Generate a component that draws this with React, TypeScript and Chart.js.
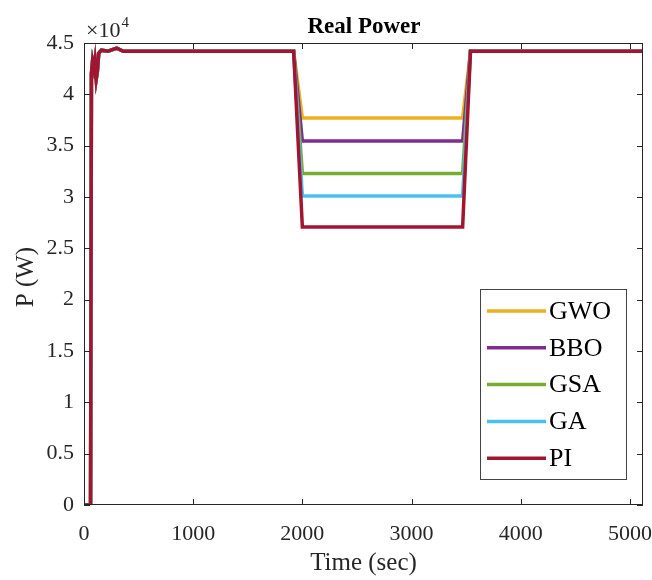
import React, { useEffect, useRef } from "react";
import { Chart, registerables } from "chart.js";

Chart.register(...registerables);

const seriesLabels = ["GWO", "BBO", "GSA", "GA", "PI"];
const seriesColors = ["#EDB120", "#7E2F8E", "#77AC30", "#4DBEEE", "#A2142F"];

const timeSec = [0, 60, 68, 78, 90, 100, 112, 122, 135, 160, 220, 300, 360, 1920, 2000, 3468, 3540, 5120];

const gwoPower = [0, 0, 42000, 43200, 42500, 43300, 41500, 42200, 44000, 44300, 44200, 44500, 44200, 44200, 37700, 37700, 44200, 44200];
const bboPower = [0, 0, 42000, 43200, 42500, 43300, 41500, 42200, 44000, 44300, 44200, 44500, 44200, 44200, 35450, 35450, 44200, 44200];
const gsaPower = [0, 0, 42000, 43200, 42500, 43300, 41500, 42200, 44000, 44300, 44200, 44500, 44200, 44200, 32300, 32300, 44200, 44200];
const gaPower = [0, 0, 42000, 43200, 42500, 43300, 41500, 42200, 44000, 44300, 44200, 44500, 44200, 44200, 30100, 30100, 44200, 44200];
const piPower = [0, 0, 42000, 43200, 42500, 43300, 41500, 42200, 44000, 44300, 44200, 44500, 44200, 44200, 27080, 27080, 44200, 44200];

const seriesValues = [gwoPower, bboPower, gsaPower, gaPower, piPower];

const xTicks = [0, 1000, 2000, 3000, 4000, 5000];
const yTicks = [0, 5000, 10000, 15000, 20000, 25000, 30000, 35000, 40000, 45000];

const SERIF = "'Liberation Serif', 'DejaVu Serif', serif";
const AXIS_COLOR = "#262626";

const decorPlugin = {
  id: "decor",
  afterDatasetsDraw(chart: any) {
    const { ctx, chartArea: a, scales } = chart;
    const xs = scales.x;
    const ys = scales.y;
    ctx.save();
    ctx.strokeStyle = AXIS_COLOR;
    ctx.lineWidth = 1;
    ctx.strokeRect(a.left + 0.5, a.top + 0.5, a.right - a.left - 1, a.bottom - a.top - 1);
    const tl = 6;
    ctx.beginPath();
    xTicks.forEach((v) => {
      const px = Math.round(xs.getPixelForValue(v)) + 0.5;
      ctx.moveTo(px, a.bottom);
      ctx.lineTo(px, a.bottom - tl);
      ctx.moveTo(px, a.top);
      ctx.lineTo(px, a.top + tl);
    });
    yTicks.forEach((v) => {
      const py = Math.round(ys.getPixelForValue(v)) + 0.5;
      ctx.moveTo(a.left, py);
      ctx.lineTo(a.left + tl, py);
      ctx.moveTo(a.right, py);
      ctx.lineTo(a.right - tl, py);
    });
    ctx.stroke();

    // title
    ctx.fillStyle = "#000";
    ctx.textAlign = "center";
    ctx.textBaseline = "alphabetic";
    ctx.font = `bold 23px ${SERIF}`;
    ctx.fillText("Real Power", 364, 33);

    // exponent
    ctx.fillStyle = AXIS_COLOR;
    ctx.textAlign = "left";
    ctx.font = `22px ${SERIF}`;
    ctx.fillText("×10", a.left + 2, 37);
    const w = ctx.measureText("×10").width;
    ctx.font = `15px ${SERIF}`;
    ctx.fillText("4", a.left + 2 + w + 1, 27);

    // axis titles
    ctx.font = `25px ${SERIF}`;
    ctx.textAlign = "center";
    ctx.textBaseline = "middle";
    ctx.fillText("Time (sec)", (a.left + a.right) / 2, 563);
    ctx.save();
    ctx.translate(26, (a.top + a.bottom) / 2 + 3);
    ctx.rotate(-Math.PI / 2);
    ctx.fillText("P (W)", 0, 0);
    ctx.restore();

    // legend
    const lx = 480, ly = 289, lw = 146, lh = 190;
    ctx.fillStyle = "#fff";
    ctx.fillRect(lx, ly, lw, lh);
    ctx.strokeStyle = "#444";
    ctx.lineWidth = 1;
    ctx.strokeRect(lx + 0.5, ly + 0.5, lw, lh);
    ctx.font = `26px ${SERIF}`;
    ctx.textAlign = "left";
    ctx.textBaseline = "middle";
    seriesLabels.forEach((lab, i) => {
      const cy = 311 + i * 36.8;
      ctx.strokeStyle = seriesColors[i];
      ctx.lineWidth = 3.5;
      ctx.beginPath();
      ctx.moveTo(487, cy);
      ctx.lineTo(546, cy);
      ctx.stroke();
      ctx.fillStyle = "#000";
      ctx.fillText(lab, 549, cy + 1);
    });
    ctx.restore();
  },
};

export default function App() {
  const ref = useRef<HTMLCanvasElement | null>(null);
  useEffect(() => {
    if (!ref.current) return;
    const chart = new Chart(ref.current, {
      type: "line",
      data: {
        datasets: seriesLabels.map((lab, i) => ({
          label: lab,
          data: timeSec.map((t, j) => ({ x: t, y: seriesValues[i][j] })),
          borderColor: seriesColors[i],
          backgroundColor: seriesColors[i],
          borderWidth: 3.5,
          pointRadius: 0,
          tension: 0,
          fill: false,
          order: seriesLabels.length - 1 - i,
        })),
      },
      options: {
        animation: false,
        responsive: false,
        maintainAspectRatio: false,
        layout: { padding: { left: 0, right: 9, top: 43, bottom: 0 } },
        plugins: {
          legend: { display: false },
          title: { display: false },
          tooltip: { enabled: false },
        },
        scales: {
          x: {
            type: "linear",
            min: 0,
            max: 5120,
            afterBuildTicks: (s: any) => {
              s.ticks = xTicks.map((v) => ({ value: v }));
            },
            afterFit: (s: any) => {
              s.height = 75;
              s.paddingLeft = 0;
              s.paddingRight = 0;
            },
            grid: { display: false, drawTicks: false },
            border: { display: false },
            ticks: {
              color: AXIS_COLOR,
              font: { family: SERIF, size: 22 },
              padding: 16,
              maxRotation: 0,
              autoSkip: false,
              callback: (v: any) => String(v),
            },
          },
          y: {
            type: "linear",
            min: 0,
            max: 45000,
            afterBuildTicks: (s: any) => {
              s.ticks = yTicks.map((v) => ({ value: v }));
            },
            afterFit: (s: any) => {
              s.width = 84;
              s.paddingTop = 0;
              s.paddingBottom = 0;
            },
            grid: { display: false, drawTicks: false },
            border: { display: false },
            ticks: {
              color: AXIS_COLOR,
              font: { family: SERIF, size: 22 },
              padding: 10,
              autoSkip: false,
              callback: (v: any) => String(Number(v) / 10000),
            },
          },
        },
      },
      plugins: [decorPlugin],
    });
    return () => chart.destroy();
  }, []);
  return (
    <div style={{ position: "absolute", left: 0, top: 0, width: 652, height: 580, background: "#fff" }}>
      <canvas ref={ref} width={652} height={580} style={{ display: "block" }} />
    </div>
  );
}
